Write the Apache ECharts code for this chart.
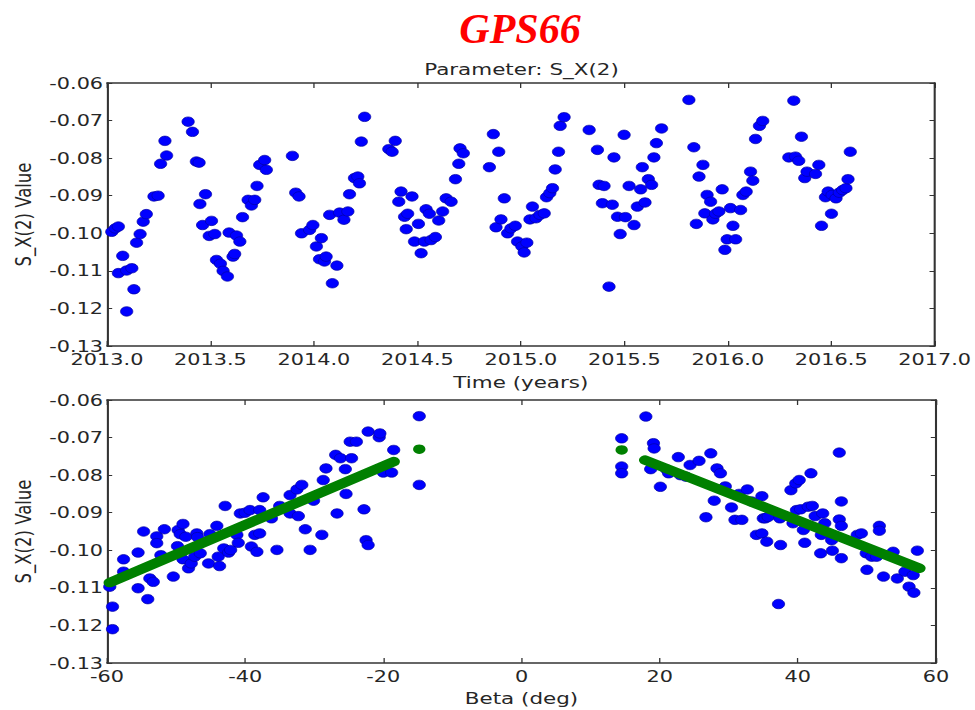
<!DOCTYPE html>
<html>
<head>
<meta charset="utf-8">
<script src="https://cdn.jsdelivr.net/npm/echarts@6/dist/echarts.min.js"></script>
<style>
  html, body { margin: 0; padding: 0; background: #ffffff; }
  /* the figure is laid out at 750px and widened to 975px */
  #fig { width: 750px; height: 710px; transform: scaleX(1.3); transform-origin: 0 0; }
</style>
</head>
<body>
<div id="fig"></div>
<script>
// S_X(2) estimates against time
const timeYears = [
  2013.023, 2013.040, 2013.055, 2013.055, 2013.076, 2013.095, 2013.095, 2013.120, 2013.130, 2013.143,
  2013.160, 2013.175, 2013.190, 2013.227, 2013.247, 2013.259, 2013.280, 2013.288, 2013.392, 2013.413,
  2013.432, 2013.445, 2013.449, 2013.462, 2013.476, 2013.494, 2013.505, 2013.521, 2013.529, 2013.548,
  2013.561, 2013.582, 2013.590, 2013.609, 2013.617, 2013.626, 2013.642, 2013.655, 2013.682, 2013.698,
  2013.714, 2013.725, 2013.738, 2013.762, 2013.770, 2013.896, 2013.912, 2013.928, 2013.940, 2013.979,
  2013.995, 2014.012, 2014.027, 2014.036, 2014.051, 2014.059, 2014.076, 2014.089, 2014.111, 2014.124,
  2014.145, 2014.164, 2014.172, 2014.196, 2014.212, 2014.220, 2014.229, 2014.245, 2014.362, 2014.378,
  2014.393, 2014.410, 2014.421, 2014.438, 2014.446, 2014.453, 2014.474, 2014.486, 2014.505, 2014.518,
  2014.534, 2014.542, 2014.558, 2014.566, 2014.587, 2014.603, 2014.622, 2014.639, 2014.663, 2014.684,
  2014.700, 2014.706, 2014.722, 2014.848, 2014.867, 2014.880, 2014.893, 2014.904, 2014.920, 2014.936,
  2014.952, 2014.973, 2014.984, 2015.005, 2015.016, 2015.029, 2015.044, 2015.056, 2015.073, 2015.092,
  2015.113, 2015.124, 2015.140, 2015.153, 2015.166, 2015.182, 2015.190, 2015.209, 2015.330, 2015.370,
  2015.378, 2015.394, 2015.402, 2015.426, 2015.442, 2015.450, 2015.467, 2015.480, 2015.499, 2015.505,
  2015.523, 2015.547, 2015.563, 2015.579, 2015.587, 2015.600, 2015.616, 2015.632, 2015.643, 2015.655,
  2015.680, 2015.812, 2015.836, 2015.848, 2015.861, 2015.880, 2015.889, 2015.900, 2015.917, 2015.928,
  2015.941, 2015.957, 2015.973, 2015.986, 2015.997, 2016.013, 2016.025, 2016.038, 2016.062, 2016.073,
  2016.089, 2016.110, 2016.121, 2016.134, 2016.153, 2016.169, 2016.295, 2016.319, 2016.327, 2016.343,
  2016.356, 2016.372, 2016.383, 2016.424, 2016.440, 2016.453, 2016.472, 2016.485, 2016.501, 2016.504,
  2016.523, 2016.539, 2016.555, 2016.571, 2016.581, 2016.592
];
const timeValues = [
  -0.0996, -0.0987, -0.0982, -0.1106, -0.1060, -0.1099, -0.1208, -0.1093, -0.1149, -0.1025,
  -0.1002, -0.0969, -0.0949, -0.0902, -0.0900, -0.0815, -0.0754, -0.0793, -0.0703, -0.0730,
  -0.0809, -0.0812, -0.0922, -0.0978, -0.0896, -0.1007, -0.0967, -0.1002, -0.1071, -0.1081,
  -0.1100, -0.1115, -0.0998, -0.1062, -0.1055, -0.1006, -0.1022, -0.0957, -0.0911, -0.0926,
  -0.0911, -0.0874, -0.0818, -0.0805, -0.0831, -0.0794, -0.0892, -0.0902, -0.1000, -0.0991,
  -0.0978, -0.1035, -0.1069, -0.1013, -0.1075, -0.1062, -0.0951, -0.1133, -0.1086, -0.0945,
  -0.0964, -0.0942, -0.0896, -0.0853, -0.0849, -0.0867, -0.0756, -0.0690, -0.0776, -0.0783,
  -0.0754, -0.0916, -0.0889, -0.0956, -0.0989, -0.0948, -0.0902, -0.1022, -0.0975, -0.1053,
  -0.1022, -0.0936, -0.0948, -0.1018, -0.1010, -0.0966, -0.0942, -0.0907, -0.0916, -0.0856,
  -0.0815, -0.0774, -0.0787, -0.0824, -0.0736, -0.0984, -0.0783, -0.0963, -0.0907, -0.1000,
  -0.0987, -0.0980, -0.1022, -0.1035, -0.1051, -0.1025, -0.0963, -0.0929, -0.0960, -0.0951,
  -0.0947, -0.0904, -0.0893, -0.0880, -0.0830, -0.0783, -0.0714, -0.0691, -0.0725, -0.0778,
  -0.0871, -0.0920, -0.0874, -0.1142, -0.0924, -0.0798, -0.0956, -0.1002, -0.0738, -0.0957,
  -0.0874, -0.0978, -0.0929, -0.0883, -0.0824, -0.0918, -0.0856, -0.0871, -0.0798, -0.0760,
  -0.0721, -0.0645, -0.0771, -0.0975, -0.0849, -0.0818, -0.0947, -0.0898, -0.0916, -0.0963,
  -0.0948, -0.0942, -0.0883, -0.1044, -0.1016, -0.0933, -0.0980, -0.1016, -0.0938, -0.0898,
  -0.0889, -0.0836, -0.0860, -0.0749, -0.0714, -0.0701, -0.0798, -0.0647, -0.0796, -0.0807,
  -0.0743, -0.0853, -0.0836, -0.0842, -0.0818, -0.0980, -0.0904, -0.0889, -0.0948, -0.0898,
  -0.0907, -0.0892, -0.0885, -0.0880, -0.0856, -0.0783
];

// S_X(2) estimates against the sun elevation angle beta
const betaDeg = [
  -59.6, -59.2, -59.2, -57.6, -57.6, -55.5, -55.5, -54.7, -54.1, -53.8,
  -53.3, -52.8, -52.8, -52.2, -51.7, -50.4, -49.8, -49.7, -49.4, -49.0,
  -49.0, -48.6, -48.2, -47.8, -47.3, -47.0, -46.9, -46.5, -45.3, -45.1,
  -44.1, -43.9, -43.7, -43.1, -42.9, -42.4, -42.1, -41.2, -41.0, -40.7,
  -40.0, -39.3, -39.1, -38.6, -38.3, -37.9, -37.9, -37.4, -36.2, -35.4,
  -35.0, -33.5, -33.5, -32.5, -32.3, -31.8, -31.3, -30.6, -30.1, -28.9,
  -28.7, -28.3, -26.9, -26.7, -26.2, -25.5, -25.4, -24.8, -24.6, -23.9,
  -22.8, -22.5, -22.2, -22.2, -20.6, -20.5, -20.0, -18.8, -18.5, -14.8,
  -14.8,
  14.5, 14.5, 14.5, 18.0, 18.7, 19.1, 19.2, 20.1, 21.0, 21.3,
  22.7, 23.0, 23.8, 24.4, 25.7, 26.7, 27.4, 27.9, 28.3, 28.8,
  29.5, 30.4, 30.9, 31.5, 31.9, 32.7, 33.3, 34.0, 34.8, 34.8,
  35.0, 35.3, 35.5, 35.7, 37.2, 37.4, 37.5, 39.0, 39.3, 39.7,
  39.8, 40.2, 40.4, 40.8, 41.0, 41.5, 41.9, 42.1, 42.5, 43.3,
  43.4, 43.6, 43.9, 44.9, 45.0, 46.0, 46.0, 46.3, 46.3, 46.3,
  48.6, 49.2, 49.9, 50.0, 50.7, 51.4, 51.8, 51.8, 52.4, 53.8,
  54.4, 55.5, 56.1, 56.7, 56.8, 57.3
];
const betaValues = [
  -0.1097, -0.1150, -0.1210, -0.1057, -0.1024, -0.1006, -0.1101, -0.0950, -0.1130, -0.1075,
  -0.1084, -0.0963, -0.0981, -0.1013, -0.0944, -0.1070, -0.0989, -0.0946, -0.0957, -0.0930,
  -0.1024, -0.0964, -0.1048, -0.1035, -0.1017, -0.0955, -0.0965, -0.1008, -0.1035, -0.0957,
  -0.0935, -0.1017, -0.1042, -0.0995, -0.0882, -0.1006, -0.0999, -0.0959, -0.0980, -0.0902,
  -0.0900, -0.0893, -0.0990, -0.0959, -0.1004, -0.0893, -0.0955, -0.0859, -0.0915, -0.0999,
  -0.0882, -0.0853, -0.0902, -0.0838, -0.0909, -0.0826, -0.0944, -0.0999, -0.0868, -0.0959,
  -0.0813, -0.0782, -0.0746, -0.0902, -0.0755, -0.0784, -0.0850, -0.0711, -0.0755, -0.0711,
  -0.0891, -0.0973, -0.0986, -0.0684, -0.0699, -0.0689, -0.0793, -0.0793, -0.0733, -0.0643,
  -0.0826,
  -0.0702, -0.0777, -0.0795, -0.0644, -0.0784, -0.0715, -0.0729, -0.0831, -0.0785, -0.0795,
  -0.0752, -0.0800, -0.0804, -0.0773, -0.0762, -0.0912, -0.0742, -0.0868, -0.0782, -0.0795,
  -0.0830, -0.0886, -0.0919, -0.0850, -0.0919, -0.0838, -0.0870, -0.0959, -0.0856, -0.0955,
  -0.0915, -0.0915, -0.0977, -0.0911, -0.1143, -0.0915, -0.0986, -0.0840, -0.0928, -0.0822,
  -0.0893, -0.0813, -0.0891, -0.0946, -0.0980, -0.0884, -0.0795, -0.0882, -0.0909, -0.1008,
  -0.0959, -0.0902, -0.0928, -0.0973, -0.1001, -0.0740, -0.0918, -0.0870, -0.0935, -0.1021,
  -0.0959, -0.0955, -0.1008, -0.1052, -0.1017, -0.1017, -0.0935, -0.0948, -0.1070, -0.1004,
  -0.1075, -0.1057, -0.1097, -0.1066, -0.1113, -0.1001
];

// linear fits of S_X(2) on beta, one per sign of beta
const fitLeftBeta = [-59.6, -18.5];
const fitLeftValue = [-0.1086, -0.0764];
const fitRightBeta = [17.9, 57.6];
const fitRightValue = [-0.0760, -0.1048];
const fitDotBeta = [-14.8, 14.5];
const fitDotValue = [-0.0731, -0.0733];

// axis ranges and tick steps
const yearTicks = { min: 2013, max: 2017, step: 0.5 };
const betaTicks = { min: -60, max: 60, step: 20 };
const valueTicks = { min: -0.13, max: -0.06, step: 0.01 };

const zip = (xs, ys) => xs.map((x, i) => [x, ys[i]]);

const INK = '#262626';
const FONT = 'DejaVu Sans';
const STRETCH = 1.3;

const frameLine = { show: true, onZero: false, lineStyle: { color: '#333333', width: 1.6 } };

function mainX(grid, range, fmt, name, gap) {
  return {
    type: 'value', gridIndex: grid, position: 'bottom',
    min: range.min, max: range.max, interval: range.step,
    axisLine: frameLine,
    axisTick: { show: true, inside: true, length: 5, lineStyle: { color: '#333333', width: 1 } },
    axisLabel: { show: true, margin: 5, color: INK, fontFamily: FONT, fontSize: 16,
                 showMinLabel: true, showMaxLabel: true, hideOverlap: false, formatter: fmt },
    splitLine: { show: false },
    name: name, nameLocation: 'middle', nameGap: gap,
    nameTextStyle: { color: INK, fontFamily: FONT, fontSize: 16.5 }
  };
}
function topX(grid, range) {
  return {
    type: 'value', gridIndex: grid, position: 'top',
    min: range.min, max: range.max, interval: range.step,
    axisLine: frameLine,
    axisTick: { show: true, inside: true, length: 5, lineStyle: { color: '#333333', width: 1 } },
    axisLabel: { show: false }, splitLine: { show: false }
  };
}
function mainY(grid) {
  return {
    type: 'value', gridIndex: grid, position: 'left',
    min: valueTicks.min, max: valueTicks.max, interval: valueTicks.step,
    axisLine: frameLine,
    axisTick: { show: true, inside: true, length: 4, lineStyle: { color: '#333333', width: 1 } },
    axisLabel: { show: true, margin: 3, color: INK, fontFamily: FONT, fontSize: 16,
                 showMinLabel: true, showMaxLabel: true, formatter: v => v.toFixed(2) },
    splitLine: { show: false },
    name: 'S_X(2) Value', nameLocation: 'middle', nameGap: 51, nameRotate: 90,
    nameTextStyle: { color: INK, fontFamily: FONT, fontSize: 16.5 }
  };
}
function rightY(grid) {
  return {
    type: 'value', gridIndex: grid, position: 'right',
    min: valueTicks.min, max: valueTicks.max, interval: valueTicks.step,
    axisLine: frameLine,
    axisTick: { show: true, inside: true, length: 4, lineStyle: { color: '#333333', width: 1 } },
    axisLabel: { show: false }, splitLine: { show: false }
  };
}

const blueDot = { color: '#0000ff', borderColor: '#0000a0', borderWidth: 0.6, opacity: 1 };
const green = '#008000';

const chart = echarts.init(document.getElementById('fig'), null, { renderer: 'svg' });
chart.setOption({
  animation: false,
  backgroundColor: '#ffffff',
  grid: [
    { left: 107 / STRETCH, top: 83, width: 829 / STRETCH, height: 263 },
    { left: 107 / STRETCH, top: 400, width: 829 / STRETCH, height: 263 }
  ],
  xAxis: [
    mainX(0, yearTicks, v => v.toFixed(1), 'Time (years)', 28),
    topX(0, yearTicks),
    mainX(1, betaTicks, v => String(Math.round(v)), 'Beta (deg)', 27),
    topX(1, betaTicks)
  ],
  yAxis: [mainY(0), rightY(0), mainY(1), rightY(1)],
  graphic: [
    {
      type: 'text', x: 520 / STRETCH, y: 29, scaleX: 1 / STRETCH,
      style: { text: 'GPS66', font: 'italic bold 42px "Liberation Serif"', fill: '#ff0000',
               align: 'center', verticalAlign: 'middle' }
    },
    {
      type: 'text', x: (107 + 829 / 2) / STRETCH, y: 69,
      style: { text: 'Parameter: S_X(2)', font: '16.5px "DejaVu Sans"', fill: INK,
               align: 'center', verticalAlign: 'middle' }
    }
  ],
  series: [
    {
      type: 'scatter', xAxisIndex: 0, yAxisIndex: 0, symbolSize: 9.5,
      data: zip(timeYears, timeValues), itemStyle: blueDot
    },
    {
      type: 'scatter', xAxisIndex: 2, yAxisIndex: 2, symbolSize: 9.5,
      data: zip(betaDeg, betaValues), itemStyle: blueDot
    },
    {
      type: 'line', xAxisIndex: 2, yAxisIndex: 2, symbol: 'none', z: 3,
      data: zip(fitLeftBeta, fitLeftValue),
      lineStyle: { color: green, width: 9.5, cap: 'round', opacity: 1 }
    },
    {
      type: 'line', xAxisIndex: 2, yAxisIndex: 2, symbol: 'none', z: 3,
      data: zip(fitRightBeta, fitRightValue),
      lineStyle: { color: green, width: 9.5, cap: 'round', opacity: 1 }
    },
    {
      type: 'scatter', xAxisIndex: 2, yAxisIndex: 2, symbolSize: 9.5, z: 3,
      data: zip(fitDotBeta, fitDotValue), itemStyle: { color: green, opacity: 1 }
    }
  ]
});
</script>
</body>
</html>
